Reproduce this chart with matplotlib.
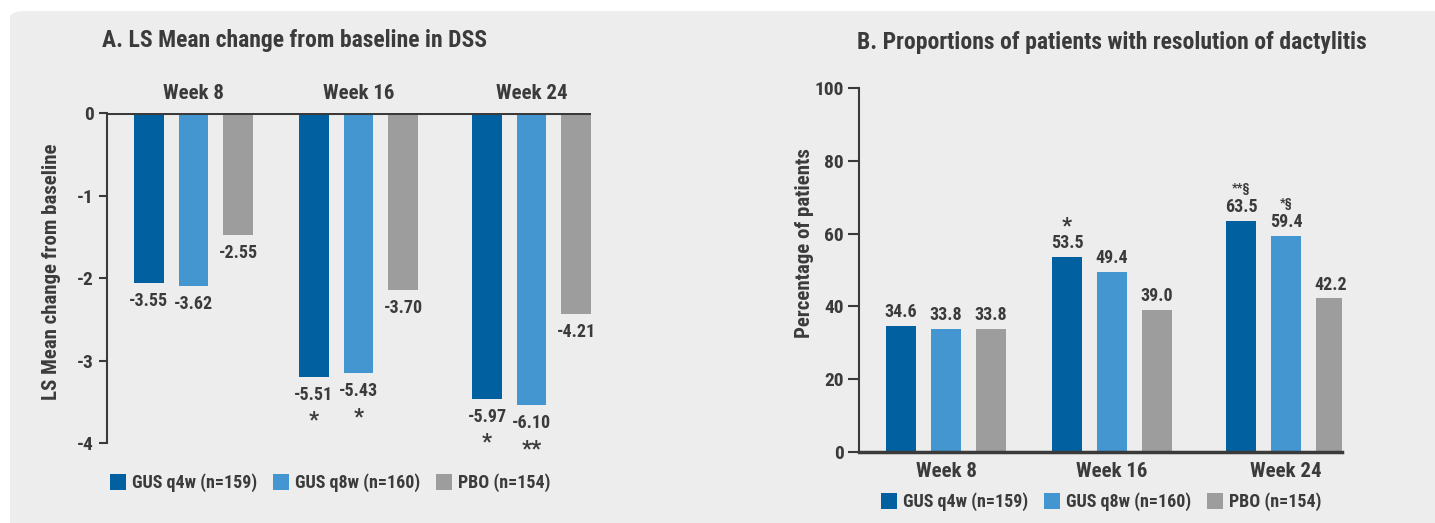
import numpy as np
import matplotlib.pyplot as plt
from matplotlib.patches import FancyBboxPatch, Patch

plt.rcParams['font.family'] = ['Roboto Condensed', 'Roboto', 'DejaVu Sans']
plt.rcParams['font.weight'] = 'bold'
plt.rcParams['axes.labelweight'] = 'bold'

weeks = ['Week 8', 'Week 16', 'Week 24']
arms = ['GUS q4w (n=159)', 'GUS q8w (n=160)', 'PBO (n=154)']

# A. LS mean change from baseline in DSS
dss_q4w = [-3.55, -5.51, -5.97]
dss_q8w = [-3.62, -5.43, -6.10]
dss_pbo = [-2.55, -3.70, -4.21]
dss_sig_q4w = ['', '*', '*']
dss_sig_q8w = ['', '*', '**']
dss_sig_pbo = ['', '', '']
dss_tick_labels = ['0', '-1', '-2', '-3', '-4']
dss_axis_scale = 1.725  # printed axis units are compressed vs. the values

# B. proportion of patients with resolution of dactylitis (%)
res_q4w = [34.6, 53.5, 63.5]
res_q8w = [33.8, 49.4, 59.4]
res_pbo = [33.8, 39.0, 42.2]
res_sig_q4w = ['', '*', '**§']
res_sig_q8w = ['', '', '*§']
res_sig_pbo = ['', '', '']
res_ticks = [0, 20, 40, 60, 80, 100]

colors = ['#0060a0', '#4396d0', '#9d9d9d']
txt = '#3b3b3b'
bg = '#ededed'

W, H = 1435, 523
fig = plt.figure(figsize=(W / 100, H / 100), dpi=100, facecolor='white')
fig.patches.append(FancyBboxPatch((10 / W, -0.05), 1.2, (H - 11) / H + 0.05,
                                  boxstyle='round,pad=0,rounding_size=0.012',
                                  transform=fig.transFigure, facecolor=bg,
                                  edgecolor='none', zorder=-1))

group_x = np.array([0, 1, 2.05])
step = 0.27
bw = 0.18


def px_axes(x0, x1, y0, y1):
    return fig.add_axes([x0 / W, 1 - y1 / H, (x1 - x0) / W, (y1 - y0) / H])


def bold_ticks(a):
    for lbl in a.get_xticklabels() + a.get_yticklabels():
        lbl.set_fontweight('bold')


# ---- panel A ----
ax = px_axes(106.5, 591, 113, 443)
ax.set_facecolor('none')
series = [(dss_q4w, dss_sig_q4w), (dss_q8w, dss_sig_q8w), (dss_pbo, dss_sig_pbo)]
for i, (vals, sig) in enumerate(series):
    xs = group_x + (i - 1) * step
    ax.bar(xs, vals, bw, color=colors[i], zorder=2)
    for x, v, s in zip(xs, vals, sig):
        ax.annotate(f'{v:.2f}', (x, v), xytext=(0, -13), textcoords='offset points',
                    ha='center', va='center', fontsize=13, color=txt)
        if s:
            ax.annotate(s, (x, v), xytext=(0, -24), textcoords='offset points',
                        ha='center', va='top', fontsize=16, color=txt)
for x, w in zip(group_x, weeks):
    ax.annotate(w, (x, 0), xytext=(0, 14), textcoords='offset points',
                ha='center', va='center', fontsize=15, color=txt)
ax.axhline(0, color='#3a3a3a', lw=2.2, zorder=3)
ax.set_xlim(-0.527, 2.41)
ax.set_ylim(-4 * dss_axis_scale, 0)
ax.set_yticks(-np.arange(len(dss_tick_labels)) * dss_axis_scale)
ax.set_yticklabels(dss_tick_labels)
ax.set_xticks([])
for sp in ['top', 'right', 'bottom']:
    ax.spines[sp].set_visible(False)
ax.spines['left'].set_color('#3a3a3a')
ax.spines['left'].set_linewidth(1.5)
ax.tick_params(axis='y', length=6, width=1.5, color='#3a3a3a', labelsize=14,
               labelcolor=txt, pad=3)
bold_ticks(ax)
ax.set_ylabel('LS Mean change from baseline', fontsize=15, color=txt)
ax.yaxis.set_label_coords(-0.094, 0.52)
fig.text(102 / W, 1 - 40 / H, 'A. LS Mean change from baseline in DSS',
         fontsize=17, color=txt, ha='left', va='center')

# ---- panel B ----
bx = px_axes(859, 1342, 88, 452)
bx.set_facecolor('none')
series = [(res_q4w, res_sig_q4w), (res_q8w, res_sig_q8w), (res_pbo, res_sig_pbo)]
for i, (vals, sig) in enumerate(series):
    xs = group_x + (i - 1) * step
    bx.bar(xs, vals, bw, color=colors[i], zorder=2)
    for x, v, s in zip(xs, vals, sig):
        bx.annotate(f'{v:.1f}', (x, v), xytext=(0, 10), textcoords='offset points',
                    ha='center', va='center', fontsize=13, color=txt)
        if s:
            small = len(s) > 1
            bx.annotate(s, (x, v), xytext=(0, 23 if small else 22), textcoords='offset points',
                        ha='center', va='center', fontsize=9 if small else 16, color=txt)
bx.set_xlim(-0.524, 2.386)
bx.set_ylim(0, 100)
bx.set_yticks(res_ticks)
bx.set_xticks(group_x)
bx.set_xticklabels(weeks)
for sp in ['top', 'right']:
    bx.spines[sp].set_visible(False)
bx.spines['left'].set_color('#3a3a3a')
bx.spines['left'].set_linewidth(1.5)
bx.spines['bottom'].set_color('#3a3a3a')
bx.spines['bottom'].set_linewidth(2.5)
bx.tick_params(axis='y', length=8, width=1.5, color='#3a3a3a', labelsize=14,
               labelcolor=txt, pad=3)
bx.tick_params(axis='x', length=0, labelsize=15, labelcolor=txt, pad=7)
bold_ticks(bx)
bx.set_ylabel('Percentage of patients', fontsize=15, color=txt)
bx.yaxis.set_label_coords(-0.093, 0.574)
fig.text(1112 / W, 1 - 43 / H, 'B. Proportions of patients with resolution of dactylitis',
         fontsize=17, color=txt, ha='center', va='center')

# ---- legends ----
handles = [Patch(facecolor=c, edgecolor='none') for c in colors]
for x0, y0 in [(110, 483), (881, 502)]:
    fig.legend(handles, arms, ncol=3, loc='center left',
               bbox_to_anchor=(x0 / W, 1 - y0 / H), frameon=False,
               handlelength=0.9, handleheight=1.0, handletextpad=0.3,
               columnspacing=0.9, borderpad=0, borderaxespad=0,
               prop={'size': 13, 'weight': 'bold'}, labelcolor=txt)

fig.savefig('out.png', dpi=100, facecolor='white')
